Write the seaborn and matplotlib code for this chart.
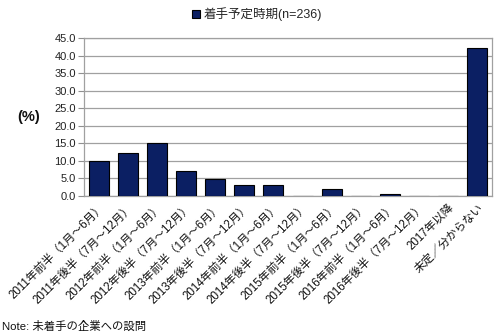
import matplotlib
matplotlib.use("Agg")
import matplotlib.pyplot as plt
import seaborn as sns
import pandas as pd

categories = [
    "2011年前半（1月～6月）", "2011年後半（7月～12月）",
    "2012年前半（1月～6月）", "2012年後半（7月～12月）",
    "2013年前半（1月～6月）", "2013年後半（7月～12月）",
    "2014年前半（1月～6月）", "2014年後半（7月～12月）",
    "2015年前半（1月～6月）", "2015年後半（7月～12月）",
    "2016年前半（1月～6月）", "2016年後半（7月～12月）",
    "2017年以降", "未定／分からない",
]
values = [10.0, 12.2, 15.1, 7.0, 4.7, 3.0, 3.0, 0.0, 1.9, 0.0, 0.4, 0.0, 0.0, 42.1]
series_label = "着手予定時期(n=236)"
yticks = [0, 5, 10, 15, 20, 25, 30, 35, 40, 45]

sns.set_theme(style="white")
plt.rcParams['font.family'] = ['Liberation Sans', 'Noto Sans CJK JP', 'DejaVu Sans']

df = pd.DataFrame({"cat": categories, "val": values})

fig = plt.figure(figsize=(5, 3.36), dpi=100)
ax = fig.add_axes([0.168, 0.417, 0.816, 0.469])

sns.barplot(data=df, x="cat", y="val", color="#0b1f63", saturation=1,
            width=0.69, edgecolor="black", linewidth=0.8, ax=ax,
            label=series_label, zorder=3)

ax.set_ylim(0, 45)
ax.set_xlim(-0.5, len(categories) - 0.5)
ax.set_yticks(yticks)
ax.set_yticklabels([f"{v:.1f}" for v in yticks], fontsize=8, color="#222222")
ax.yaxis.grid(True, color="#a0a0a0", linewidth=0.9, zorder=0)
ax.set_axisbelow(True)

# x ticks: labels at centers, tick marks at boundaries
ax.set_xticks(range(len(categories)))
ax.set_xticklabels(categories, rotation=45, ha="right", rotation_mode="anchor",
                   fontsize=8.3, color="#111111")
ax.tick_params(axis="x", which="major", length=0, pad=4)
ax.set_xticks([i - 0.5 for i in range(len(categories) + 1)], minor=True)
ax.tick_params(axis="x", which="minor", length=4, color="#909090", width=0.8, direction="out")
ax.tick_params(axis="y", length=4, color="#909090", width=0.8, direction="out", left=True, pad=2)

for s in ax.spines.values():
    s.set_color("#a0a0a0")
    s.set_linewidth(0.9)

ax.set_xlabel("")
ax.set_ylabel("(%)", rotation=0, fontsize=10.5, fontweight="bold", color="#111111",
              va="center")
ax.yaxis.set_label_coords(-0.135, 0.5)

leg = ax.legend(loc="center", bbox_to_anchor=(0.514, 0.957), bbox_transform=fig.transFigure,
                frameon=False, fontsize=9, handlelength=0.7, handleheight=0.7,
                handletextpad=0.3, borderpad=0)

fig.text(0.004, 0.03, "Note: 未着手の企業への設問", fontsize=8.2, color="#111111",
         ha="left", va="center")

fig.savefig("out.png", dpi=100)
